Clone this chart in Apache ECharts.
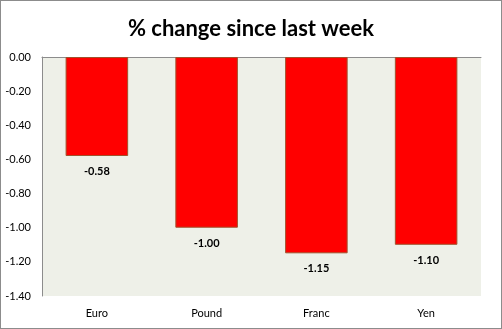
<!DOCTYPE html>
<html>
<head>
<meta charset="utf-8">
<script src="https://cdn.jsdelivr.net/npm/echarts@6/dist/echarts.min.js"></script>
<style>
  html, body { margin: 0; padding: 0; background: #fff; }
  #chart { width: 502px; height: 329px; box-sizing: border-box; border: 1px solid #8c8c8c; }
</style>
</head>
<body>
<div id="chart"></div>
<script>
// Weekly currency moves
const categories = ['Euro', 'Pound', 'Franc', 'Yen'];
const changes = [-0.58, -1.00, -1.15, -1.10];
const yTicks = { min: -1.4, max: 0, interval: 0.2 };

const chart = echarts.init(document.getElementById('chart'), null, { renderer: 'canvas' });
const font = 'Lato, "Open Sans", sans-serif';

chart.setOption({
  animation: false,
  title: {
    text: '% change since last week',
    left: 'center',
    top: 12,
    textStyle: { fontFamily: font, fontSize: 22, fontWeight: 'bold', color: '#000' }
  },
  grid: {
    left: 41, right: 20, top: 56, bottom: 32,
    show: true, backgroundColor: '#eef0e8', borderWidth: 0
  },
  xAxis: [
    {
      type: 'category',
      data: categories,
      position: 'bottom',
      axisLine: { show: false },
      axisTick: { show: false },
      axisLabel: { fontFamily: font, fontSize: 11, color: '#000', margin: 12 }
    },
    {
      type: 'category',
      data: categories,
      position: 'top',
      axisLine: { show: true, lineStyle: { color: '#8c8c8c', width: 1 } },
      axisTick: { show: false },
      axisLabel: { show: false }
    }
  ],
  yAxis: {
    type: 'value',
    min: yTicks.min,
    max: yTicks.max,
    interval: yTicks.interval,
    axisLine: { show: true, lineStyle: { color: '#8c8c8c', width: 1 } },
    axisTick: { show: false },
    splitLine: { show: false },
    axisLabel: {
      fontFamily: font, fontSize: 11, color: '#000', margin: 11,
      formatter: v => v.toFixed(2)
    }
  },
  series: [{
    type: 'bar',
    xAxisIndex: 0,
    data: changes,
    barCategoryGap: '43%',
    itemStyle: { color: '#ff0000', borderColor: '#a0522d', borderWidth: 1 },
    label: {
      show: true,
      position: 'bottom',
      distance: 10,
      fontFamily: font, fontSize: 11, fontWeight: 'bold', color: '#000',
      formatter: p => p.value.toFixed(2)
    }
  }]
});
</script>
</body>
</html>
